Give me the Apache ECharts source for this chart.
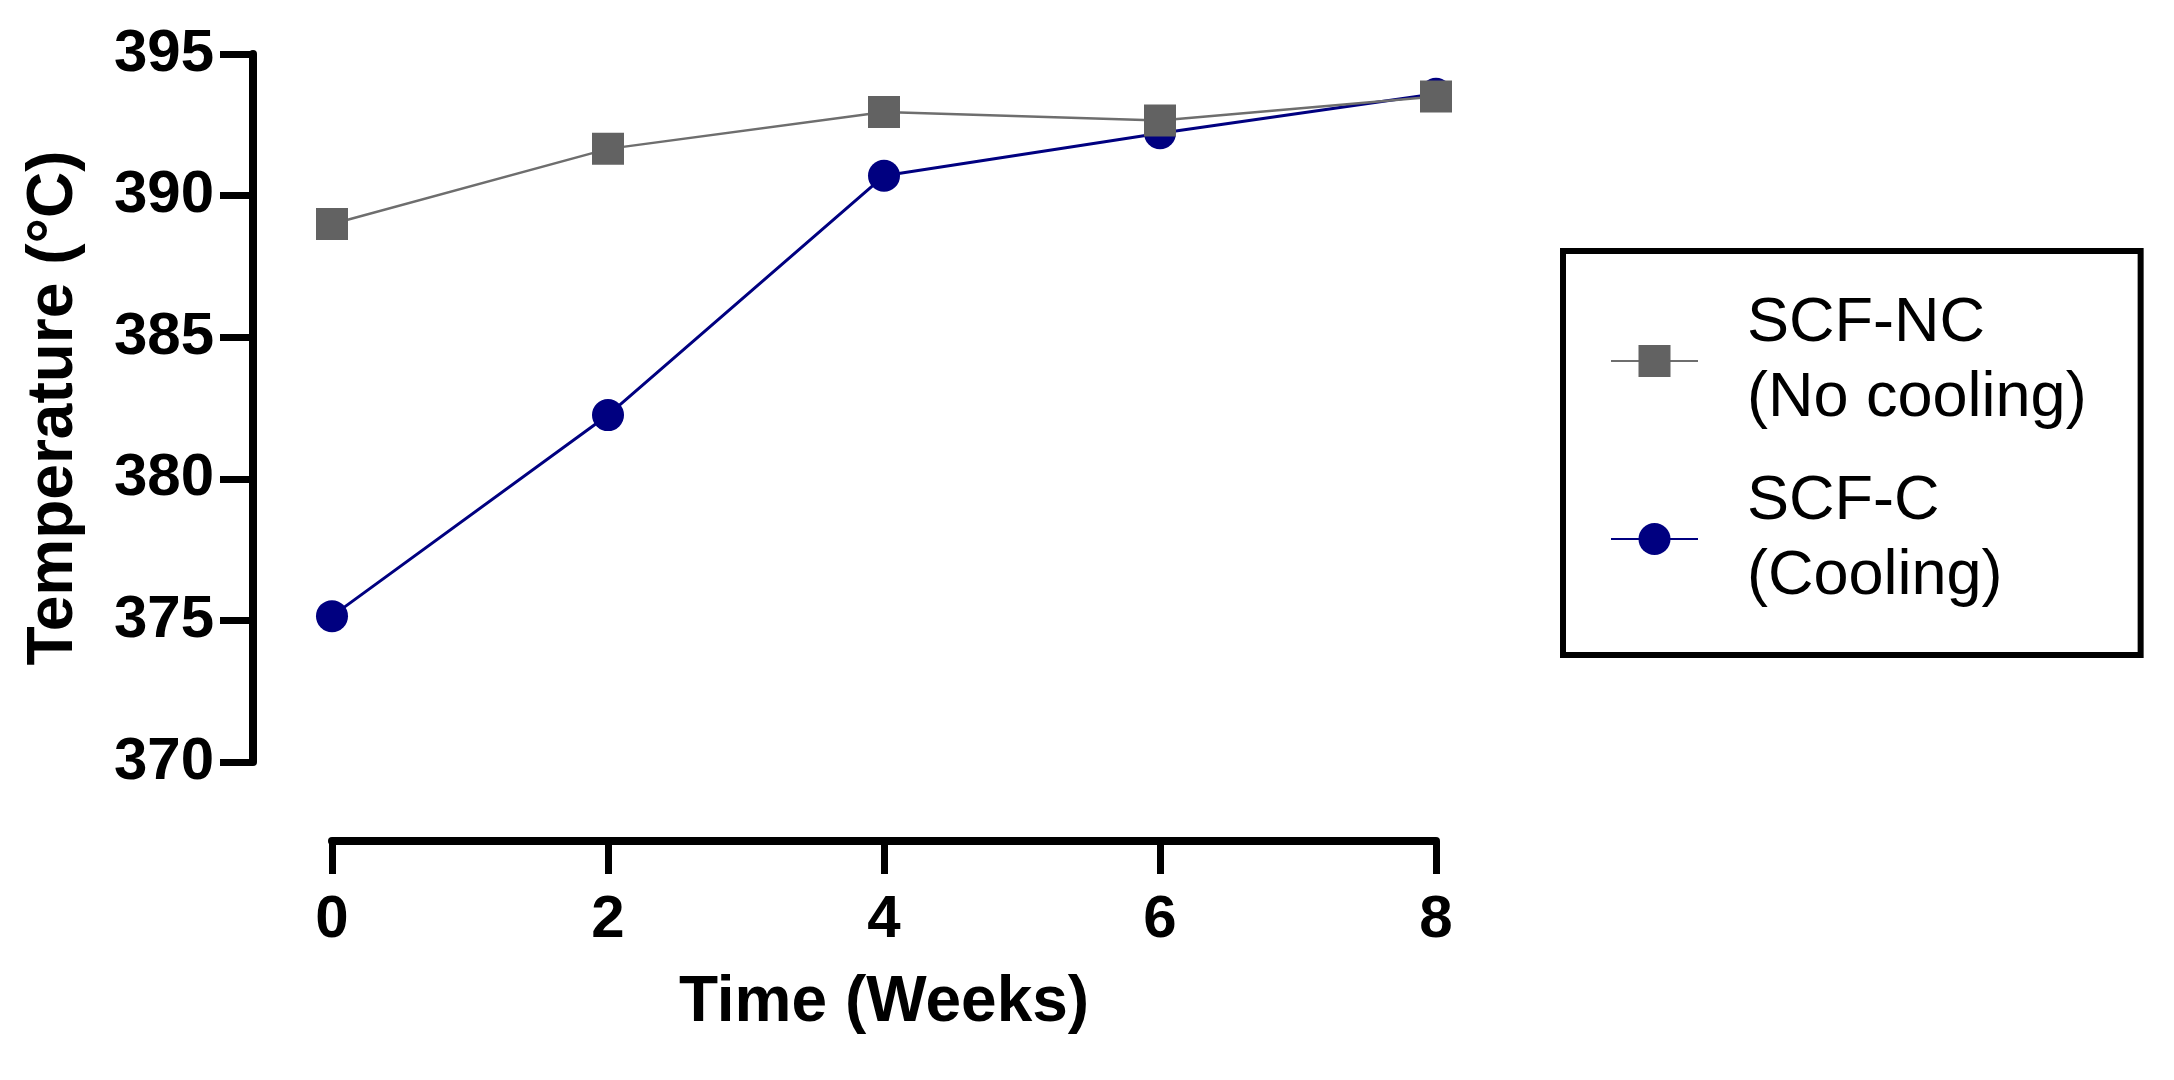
<!DOCTYPE html>
<html>
<head>
<meta charset="utf-8">
<script src="https://cdn.jsdelivr.net/npm/echarts@6/dist/echarts.min.js"></script>
<style>
  html, body { margin: 0; padding: 0; background: #ffffff; }
  #chart { width: 2174px; height: 1080px; }
</style>
</head>
<body>
<div id="chart"></div>
<script>
// ---- data ----
const weeks = [0, 2, 4, 6, 8];
const seriesNames = ['SCF-NC\n(No cooling)', 'SCF-C\n(Cooling)'];
const tempNoCooling = [389.0, 391.65, 392.95, 392.65, 393.5];
const tempCooling = [375.15, 382.25, 390.7, 392.2, 393.6];
const xTicks = [0, 2, 4, 6, 8];
const yTicks = [370, 375, 380, 385, 390, 395];

const FONT = "'Liberation Sans', Arial, Helvetica, sans-serif";
const pairs = (xs, ys) => xs.map((x, i) => [x, ys[i]]);

const chart = echarts.init(document.getElementById('chart'), null, { renderer: 'canvas' });
chart.setOption({
  animation: false,
  backgroundColor: '#ffffff',
  grid: { left: 332, top: 54, width: 1104, height: 708, containLabel: false },
  xAxis: {
    type: 'value',
    min: xTicks[0], max: xTicks[xTicks.length - 1], interval: 2,
    offset: 79,
    splitLine: { show: false },
    axisLine: { show: true, onZero: false, lineStyle: { color: '#000', width: 8 } },
    axisTick: { show: true, length: 33, lineStyle: { color: '#000', width: 7 } },
    axisLabel: { color: '#000', fontFamily: FONT, fontWeight: 'bold', fontSize: 60, margin: 49 },
    name: 'Time (Weeks)',
    nameLocation: 'middle',
    nameGap: 130,
    nameTextStyle: { color: '#000', fontFamily: FONT, fontWeight: 'bold', fontSize: 64 }
  },
  yAxis: {
    type: 'value',
    min: yTicks[0], max: yTicks[yTicks.length - 1], interval: 5,
    offset: 79,
    splitLine: { show: false },
    axisLine: { show: true, onZero: false, lineStyle: { color: '#000', width: 8 } },
    axisTick: { show: true, length: 33, lineStyle: { color: '#000', width: 7 } },
    axisLabel: { color: '#000', fontFamily: FONT, fontWeight: 'bold', fontSize: 60, margin: 39 },
    name: 'Temperature (°C)',
    nameLocation: 'middle',
    nameRotate: 90,
    nameGap: 167,
    nameTextStyle: { color: '#000', fontFamily: FONT, fontWeight: 'bold', fontSize: 64 }
  },
  legend: {
    orient: 'vertical',
    left: 1563, top: 251,
    data: [seriesNames[0], seriesNames[1]],
    selectedMode: false,
    backgroundColor: '#ffffff',
    borderColor: '#000',
    borderWidth: 6,
    padding: [35, 54, 41, 47],
    itemWidth: 87,
    itemHeight: 40,
    itemGap: 28,
    textStyle: { color: '#000', fontFamily: FONT, fontSize: 63, lineHeight: 75, padding: [0, 0, 0, 44] }
  },
  series: [
    {
      name: seriesNames[1],
      type: 'line',
      data: pairs(weeks, tempCooling),
      symbol: 'circle',
      symbolSize: 32,
      itemStyle: { color: '#000080' },
      lineStyle: { color: '#000080', width: 3 },
      z: 2
    },
    {
      name: seriesNames[0],
      type: 'line',
      data: pairs(weeks, tempNoCooling),
      symbol: 'rect',
      symbolSize: 32,
      itemStyle: { color: '#626262' },
      lineStyle: { color: '#6e6e6e', width: 2.5 },
      z: 3
    }
  ]
});
</script>
</body>
</html>
